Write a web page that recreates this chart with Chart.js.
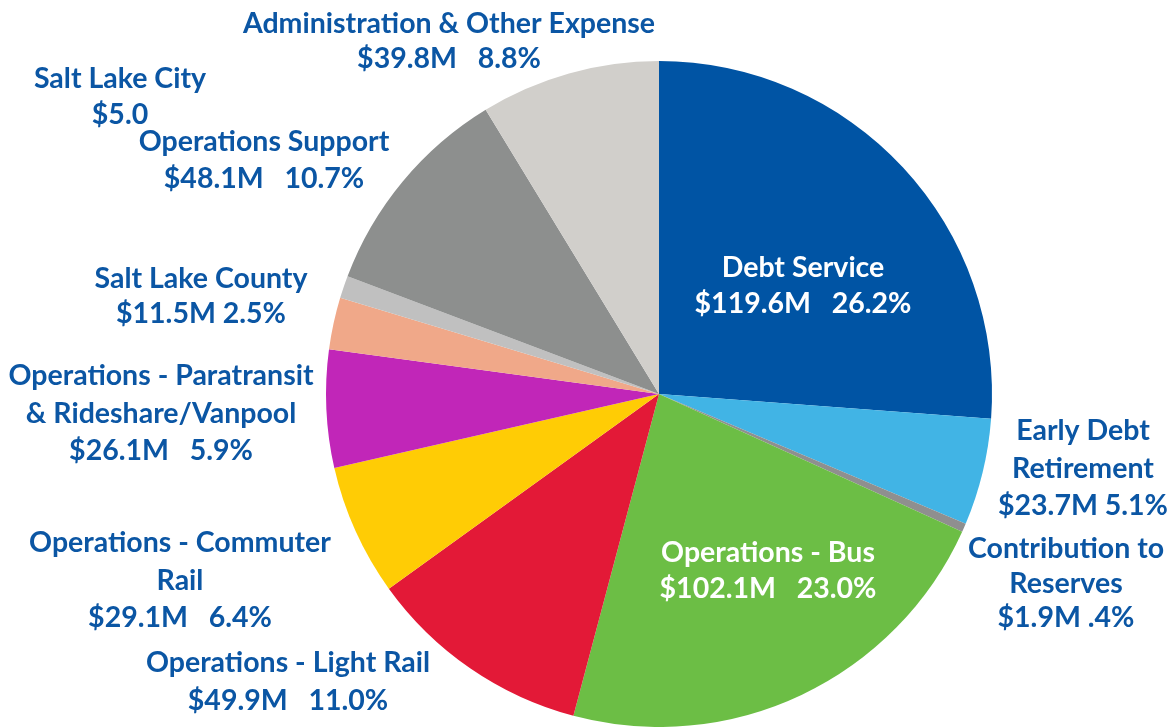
<!DOCTYPE html>
<html>
<head>
<meta charset="utf-8">
<script src="https://cdn.jsdelivr.net/npm/chart.js@4"></script>
<style>
  html, body { margin: 0; padding: 0; background: #fff; }
  canvas { display: block; }
</style>
</head>
<body>
<canvas id="budgetChart" width="1173" height="727"></canvas>
<script>
// slices, clockwise from 12 o'clock
const categories = [
  ['Debt Service'],
  ['Early Debt', 'Retirement'],
  ['Contribution to', 'Reserves'],
  ['Operations - Bus'],
  ['Operations - Light Rail'],
  ['Operations - Commuter', 'Rail'],
  ['Operations - Paratransit', '& Rideshare/Vanpool'],
  ['Salt Lake County'],
  ['Salt Lake City'],
  ['Operations Support'],
  ['Administration & Other Expense']
];
const amounts = [119.6, 23.7, 1.9, 102.1, 49.9, 29.1, 26.1, 11.5, 5.0, 48.1, 39.8];
const shares = ['26.2%', '5.1%', '.4%', '23.0%', '11.0%', '6.4%', '5.9%', '2.5%', null, '10.7%', '8.8%'];

const colors = [
  '#0054a4', '#41b4e5', '#8f8f8f', '#6cbe45', '#e31937', '#ffcc05',
  '#c126b8', '#f0a889', '#c0c0c0', '#8d8f8e', '#d1cfcb'
];

// label placement: center x, first baseline y, line height, spaces before the share
const labelLayout = [
  { x: 803, y: 277, lh: 36, gap: 3, color: '#fff' },
  { x: 1083, y: 440, lh: 37.5, gap: 1 },
  { x: 1066, y: 558, lh: 34.5, gap: 1 },
  { x: 768, y: 562, lh: 36, gap: 3, color: '#fff' },
  { x: 288, y: 672, lh: 38, gap: 3 },
  { x: 180, y: 552, lh: 37.5, gap: 3 },
  { x: 161, y: 385, lh: 37.5, gap: 3 },
  { x: 201, y: 288, lh: 35, gap: 1 },
  { x: 120, y: 88, lh: 36, gap: 1 },
  { x: 264, y: 151, lh: 37, gap: 3 },
  { x: 449, y: 33, lh: 35, gap: 3 }
];

function valueText(i) {
  const amt = '$' + amounts[i].toFixed(1);
  if (!shares[i]) return amt;
  return amt + 'M' + ' '.repeat(labelLayout[i].gap) + shares[i];
}

const sliceLabels = {
  id: 'sliceLabels',
  afterDatasetsDraw(chart) {
    const ctx = chart.ctx;
    ctx.save();
    ctx.font = 'bold 28.5px Lato, "Open Sans", sans-serif';
    ctx.textAlign = 'center';
    ctx.textBaseline = 'alphabetic';
    categories.forEach((lines, i) => {
      const pos = labelLayout[i];
      ctx.fillStyle = pos.color || '#0b56a4';
      const all = lines.concat([valueText(i)]);
      all.forEach((line, k) => ctx.fillText(line, pos.x, pos.y + k * pos.lh));
    });
    ctx.restore();
  }
};

const ctx = document.getElementById('budgetChart').getContext('2d');
new Chart(ctx, {
  type: 'pie',
  data: {
    labels: categories.map(c => c.join(' ')),
    datasets: [{
      data: amounts,
      backgroundColor: colors,
      borderWidth: 0
    }]
  },
  options: {
    responsive: false,
    animation: false,
    devicePixelRatio: 1,
    layout: { padding: { top: 61, bottom: 0, left: 145, right: 0 } },
    plugins: {
      legend: { display: false },
      tooltip: { enabled: false }
    }
  },
  plugins: [sliceLabels]
});
</script>
</body>
</html>
